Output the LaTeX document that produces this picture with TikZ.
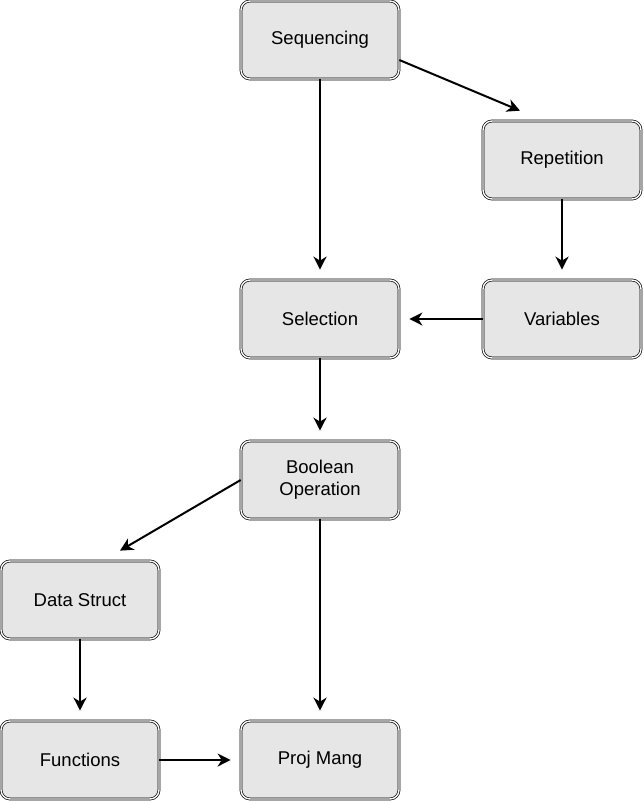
\documentclass[tikz,border=0pt]{standalone}
\usepackage{fontspec}
\setmainfont{Liberation Sans}
\usetikzlibrary{arrows,arrows.meta}

\begin{document}
\begin{tikzpicture}[
x=1pt, y=-1pt,
box/.style={draw=black, double=white, double distance=1.4pt, line width=0.7pt,
  rounded corners=9pt, fill={rgb,255:red,230;green,230;blue,230},
  minimum width=158pt, minimum height=78pt, align=center,
  font=\fontsize{18.5}{22}\selectfont, inner sep=0pt},
arrow/.style={-{Stealth[length=13pt,width=13pt,inset=4pt]}, line width=2pt} ]

\useasboundingbox (0,0) rectangle (643,801);

\node[box](seq) at (320,40) {Sequencing};

\node[box](rep) at (562,160) {Repetition};

\node[box](sel) at (320,319) {Selection};

\node[box](var) at (562,319) {Variables};

\node[box](bool) at (320,480) {Boolean\\Operation};

\node[box](data) at (80,600) {Data Struct};

\node[box](func) at (80,760) {Functions};

\node[box](proj) at (320,760) {Proj Mang};

\draw[arrow] (seq) -- ([yshift=10pt]sel.north);

\draw[arrow] ([yshift=-20pt]seq.east) -- ([xshift=-42pt,yshift=10pt]rep.north);

\draw[arrow] (rep) -- ([yshift=10pt]var.north);

\draw[arrow] (var) -- ([xshift=10pt]sel.east);

\draw[arrow] (sel) -- ([yshift=10pt]bool.north);

\draw[arrow] (bool.west) -- ([xshift=40pt,yshift=10pt]data.north);

\draw[arrow] (bool) -- ([yshift=10pt]proj.north);

\draw[arrow] (data) -- ([yshift=10pt]func.north);

\draw[arrow] (func) -- ([xshift=-10pt]proj.west);
\end{tikzpicture}
\end{document}
